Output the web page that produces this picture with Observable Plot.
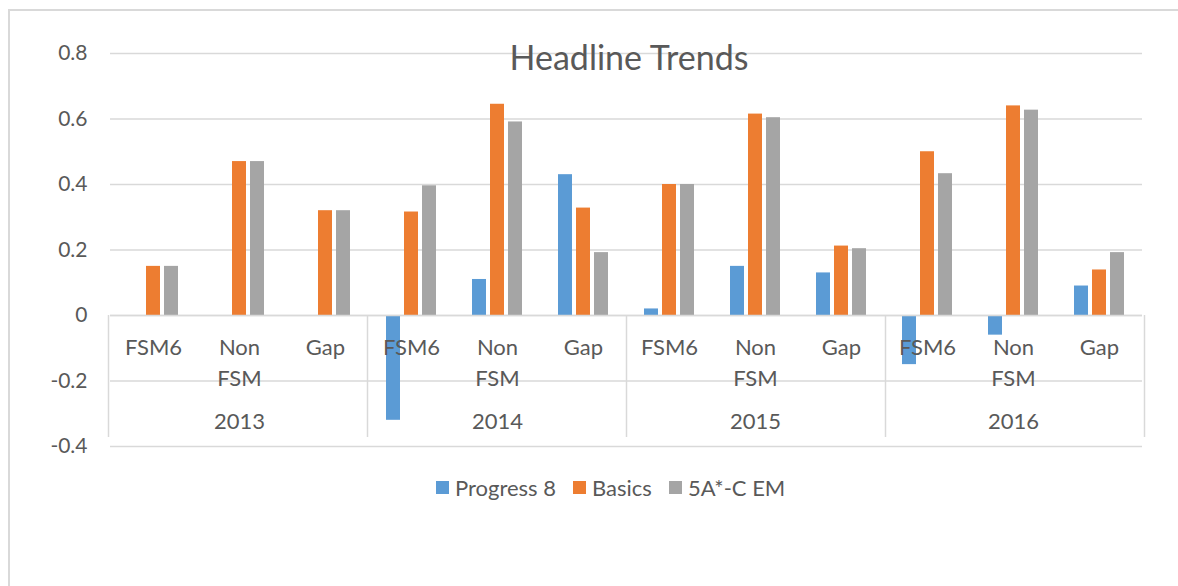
<!DOCTYPE html>
<html>
<head>
<meta charset="utf-8">
<script src="https://cdn.jsdelivr.net/npm/d3@7"></script>
<script src="https://cdn.jsdelivr.net/npm/@observablehq/plot@0.6"></script>
<style>
  body { margin: 0; background: #fff; font-family: Lato, sans-serif; }
  #wrap { position: relative; width: 1178px; height: 586px; overflow: hidden; }
  #wrap svg { position: absolute; left: 0; top: 0; }
  #border { position: absolute; left: 8px; top: 9px; width: 1200px; height: 600px;
            border-left: 2px solid #d9d9d9; border-top: 2px solid #d9d9d9; pointer-events: none; }
  #title { position: absolute; left: 0; width: 1258px; top: 40px; text-align: center;
           font-size: 34px; line-height: 34px; color: #595959; }
  #legend { position: absolute; top: 476px; left: 436px; height: 22px; display: flex;
            align-items: center; font-size: 22px; color: #595959; white-space: nowrap; }
  #legend .item { display: flex; align-items: center; margin-right: 17px; }
  #legend .sw { width: 13px; height: 13px; margin-right: 6px; }
</style>
</head>
<body>
<div id="wrap">
  <div id="title">Headline Trends</div>
  <div id="legend"></div>
  <div id="border"></div>
</div>
<script>
const years = ["2013", "2014", "2015", "2016"];
const groups = ["FSM6", "Non FSM", "Gap"];
const groupLabels = ["FSM6", "Non\nFSM", "Gap"];
const series = ["Progress 8", "Basics", "5A*-C EM"];
const colors = ["#5b9bd5", "#ed7d31", "#a5a5a5"];
// values per category in order 2013 FSM6, Non FSM, Gap, 2014 ..., 2016 ...
const progress8 = [null, null, null, -0.32, 0.11, 0.43, 0.02, 0.15, 0.13, -0.15, -0.06, 0.09];
const basics    = [0.15, 0.47, 0.32, 0.316, 0.645, 0.328, 0.40, 0.615, 0.212, 0.50, 0.64, 0.139];
const fiveAC    = [0.15, 0.47, 0.32, 0.396, 0.591, 0.192, 0.40, 0.604, 0.204, 0.433, 0.627, 0.192];
const yTicks = [-0.4, -0.2, 0, 0.2, 0.4, 0.6, 0.8];

const seriesValues = [progress8, basics, fiveAC];
const cats = years.flatMap(y => groups.map((g, gi) => ({key: y + "|" + g, year: y, label: groupLabels[gi]})));
const rows = [];
cats.forEach((c, i) => series.forEach((s, j) => {
  const v = seriesValues[j][i];
  if (v !== null) rows.push({key: c.key, series: s, value: v});
}));

const W = 1178, H = 470, ML = 108, MR = 34, MT = 53, MB = 24;
const grid = "#d9d9d9";

const chart = Plot.plot({
  width: W, height: H, marginLeft: ML, marginRight: MR, marginTop: MT, marginBottom: MB,
  style: {fontFamily: "Lato, sans-serif", fontSize: "21px", color: "#595959", background: "transparent", overflow: "visible"},
  fx: {domain: cats.map(d => d.key), padding: 0, axis: null},
  x: {domain: series, paddingInner: 0.2, paddingOuter: 0.9, axis: null},
  y: {domain: [-0.4, 0.8], ticks: yTicks, tickFormat: d => String(d), tickSize: 0, tickPadding: 23, label: null, axis: "left"},
  color: {domain: series, range: colors},
  marks: [
    Plot.ruleY(yTicks, {stroke: grid, strokeWidth: 1.5}),
    Plot.barY(rows, {fx: "key", x: "series", y: "value", fill: "series"}),
    Plot.ruleY([0], {stroke: grid, strokeWidth: 1.5}),
    Plot.text(cats, {fx: "key", y: 0, text: "label", lineAnchor: "top", dy: 17, lineHeight: 1.43, fill: "#595959", fontSize: 22}),
    Plot.text(years, {fx: d => d + "|Non FSM", y: -0.2, dy: 41, text: d => d, fill: "#595959", fontSize: 22})
  ]
});

const seps = Plot.plot({
  width: W, height: H, marginLeft: ML, marginRight: MR, marginTop: MT, marginBottom: MB,
  style: {background: "transparent"},
  x: {domain: [0, years.length], axis: null},
  y: {domain: [-0.4, 0.8], axis: null},
  marks: [
    Plot.ruleX(d3.range(years.length + 1), {y1: 0, y2: -0.4, insetBottom: 9, stroke: grid, strokeWidth: 1.5})
  ]
});

const wrap = document.getElementById("wrap");
wrap.insertBefore(seps, wrap.firstChild);
wrap.insertBefore(chart, wrap.firstChild);

const legend = document.getElementById("legend");
series.forEach((s, i) => {
  const item = document.createElement("div");
  item.className = "item";
  const sw = document.createElement("span");
  sw.className = "sw";
  sw.style.background = colors[i];
  const t = document.createElement("span");
  t.textContent = s;
  item.appendChild(sw); item.appendChild(t);
  legend.appendChild(item);
});
</script>
</body>
</html>
